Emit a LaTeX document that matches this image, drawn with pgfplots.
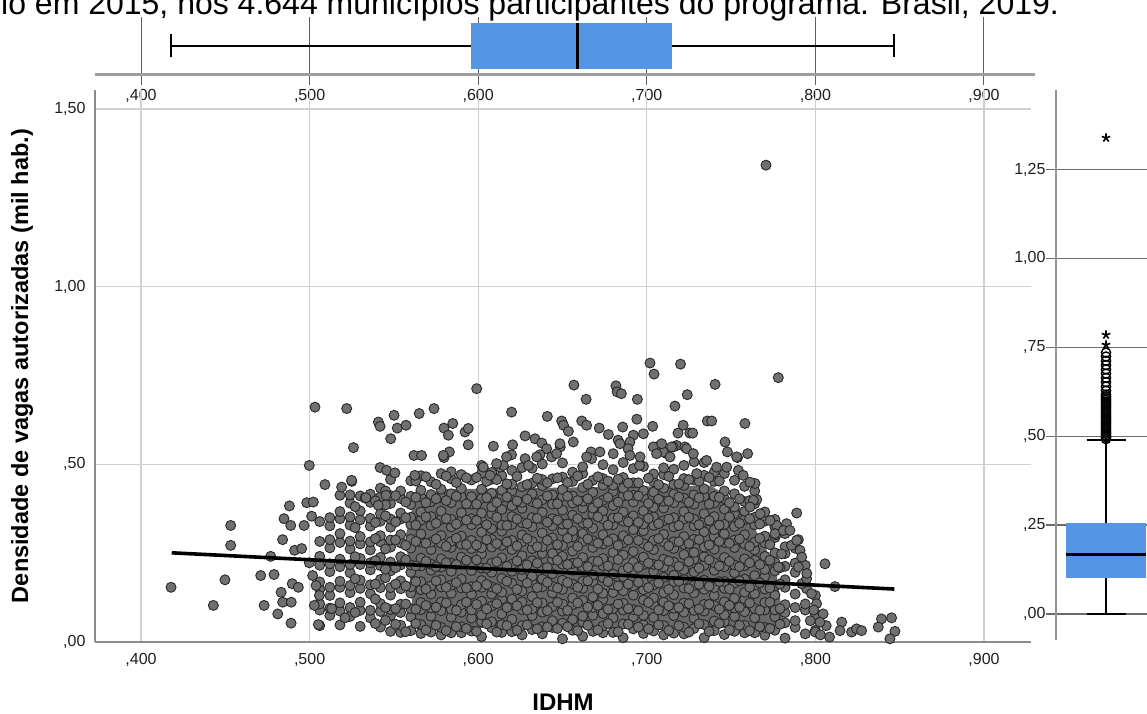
\documentclass[border=0pt]{standalone}
\usepackage{fontspec}
\setmainfont{Liberation Sans}
\usepackage{pgfplots}
\pgfplotsset{compat=1.18}
\usepackage{pgfplotstable}
\definecolor{boxblue}{RGB}{85,150,228}
\definecolor{ptfill}{RGB}{112,112,112}
\definecolor{ptedge}{RGB}{40,40,40}
\definecolor{corefill}{RGB}{104,104,104}
\definecolor{gridlight}{RGB}{208,208,208}
\definecolor{axisgray}{RGB}{140,140,140}
\definecolor{darkgrid}{RGB}{95,95,95}
\definecolor{ticktext}{RGB}{30,30,30}
\pgfplotsset{pt/.style={only marks, mark=*, mark size=5pt, mark options={fill=ptfill, draw=ptedge, line width=0.9pt}}}

\pgfplotstableread{
x c0 c1 c2 c3 c4 c5 c6 c7 c8 c9 c10 c11 c12 c13 c14 c15
0.506 nan 0.046 0.090 0.107 0.148 0.169 0.216 0.241 0.283 nan 0.339 nan nan nan nan nan
0.512 nan 0.075 0.095 0.131 0.154 0.198 0.220 0.265 0.288 0.327 0.350 nan nan nan nan nan
0.518 nan 0.048 0.087 0.110 0.154 0.171 0.212 0.233 0.280 0.305 0.347 0.367 nan nan nan nan
0.524 nan 0.072 0.097 0.139 0.159 0.195 0.218 0.262 0.284 0.329 0.352 0.391 0.414 nan nan nan
0.530 nan 0.044 0.089 0.112 0.151 0.174 0.218 0.235 0.276 0.297 0.344 0.369 0.411 nan nan nan
0.536 nan 0.068 0.089 0.136 0.161 0.203 0.223 0.259 0.282 0.326 0.348 0.393 0.416 nan nan nan
0.542 nan 0.042 0.086 0.108 0.153 0.176 0.215 0.238 0.282 0.299 0.340 0.361 0.408 0.433 nan nan
0.548 0.030 0.074 0.091 0.132 0.153 0.200 0.225 0.267 0.287 0.323 0.346 0.390 0.412 0.457 nan nan
0.554 0.027 0.047 0.083 0.106 0.150 0.172 0.217 0.240 0.279 0.302 0.346 0.363 0.404 0.425 nan nan
0.560 0.032 0.071 0.094 0.138 0.155 0.196 0.217 0.264 0.289 0.331 0.351 0.387 0.410 0.454 nan nan
0.566 0.024 0.049 0.091 0.111 0.147 0.170 0.214 0.236 0.281 0.304 0.343 0.366 0.410 0.427 0.468 nan
0.572 0.028 0.073 0.096 0.135 0.158 0.202 0.219 0.260 0.281 0.328 0.353 0.395 0.415 0.451 nan nan
0.578 0.020 0.041 0.088 0.113 0.155 0.175 0.211 0.234 0.278 0.300 0.345 0.368 0.407 0.430 0.474 nan
0.584 0.026 0.070 0.092 0.137 0.160 0.199 0.222 0.266 0.283 0.324 0.345 0.392 0.417 0.459 0.479 nan
0.590 0.026 0.043 0.084 0.105 0.152 0.177 0.219 0.239 0.275 0.298 0.342 0.364 0.409 0.432 0.471 nan
0.596 0.031 0.067 0.090 0.134 0.156 0.201 0.224 0.263 0.286 0.330 0.347 0.388 0.409 0.456 nan nan
0.602 0.015 0.057 0.076 0.115 0.154 0.173 0.208 0.248 0.265 0.309 0.343 0.363 0.404 0.430 0.475 0.497
0.608 0.040 0.057 0.101 0.135 0.155 0.196 0.222 0.267 0.289 0.319 0.361 0.380 0.419 0.458 0.477 nan
0.614 0.027 0.049 0.079 0.121 0.140 0.179 0.218 0.237 0.272 0.312 0.329 0.373 0.407 0.427 0.468 nan
0.620 0.029 0.064 0.104 0.121 0.165 0.199 0.219 0.260 0.286 0.331 0.353 0.383 0.425 0.444 0.483 nan
0.626 0.020 0.046 0.091 0.113 0.143 0.185 0.204 0.243 0.282 0.301 0.336 0.376 0.393 0.437 nan 0.491
0.632 0.035 0.074 0.093 0.128 0.168 0.185 0.229 0.263 0.283 0.324 0.350 0.395 0.417 0.447 0.489 nan
0.638 0.023 0.043 0.084 0.110 0.155 0.177 0.207 0.249 0.268 0.307 0.346 0.365 0.400 0.440 0.457 0.501
0.644 0.041 0.060 0.099 0.138 0.157 0.192 0.232 0.249 0.293 0.327 0.347 0.388 0.414 0.459 nan nan
0.650 0.009 0.053 0.087 0.107 0.148 0.174 0.219 0.241 0.271 0.313 0.332 0.371 0.410 0.429 0.464 0.504
0.656 0.033 0.063 0.105 0.124 0.163 0.202 0.221 0.256 0.296 0.313 0.357 0.391 0.411 0.452 0.478 nan
0.662 0.016 0.056 0.073 0.117 0.151 0.171 0.212 0.238 0.283 0.305 0.335 0.377 0.396 0.435 0.474 0.493
0.668 0.030 0.075 0.097 0.127 0.169 0.188 0.227 0.266 0.285 0.320 0.360 0.377 0.421 0.455 nan nan
0.674 0.026 0.045 0.080 0.120 0.137 0.181 0.215 0.235 0.276 0.302 0.347 0.369 0.399 0.441 0.460 0.499
0.680 0.027 0.068 0.094 0.139 0.161 0.191 0.233 0.252 0.291 0.330 0.349 0.384 0.424 0.441 0.485 nan
0.686 0.012 0.051 0.090 0.109 0.144 0.184 0.201 0.245 0.279 0.299 0.340 0.366 0.411 0.433 0.463 0.505
0.692 0.037 0.071 0.091 0.132 0.158 0.203 0.225 0.255 0.297 0.316 0.355 0.394 0.413 0.448 0.488 nan
0.698 0.024 0.048 0.075 0.118 0.147 0.169 0.218 0.239 0.277 0.313 0.332 0.369 0.407 0.426 nan 0.494
0.704 0.031 0.069 0.105 0.124 0.161 0.199 0.218 0.260 0.286 0.328 0.352 0.379 0.422 0.451 0.473 nan
0.710 0.020 0.046 0.088 0.112 0.139 0.182 0.211 0.233 0.282 0.303 0.341 0.377 0.396 0.433 0.471 0.490
0.716 0.025 0.074 0.095 0.133 0.169 0.188 0.225 0.263 0.282 0.324 0.350 0.392 0.416 0.443 0.486 nan
0.722 0.023 0.042 0.084 0.110 0.152 0.176 0.203 0.246 0.275 0.297 0.346 0.367 0.405 0.441 0.460 0.497
0.728 0.038 0.067 0.089 0.138 0.159 0.197 0.233 0.252 0.289 0.327 0.346 0.388 0.414 0.456 nan 0.507
0.734 0.012 0.049 0.087 0.106 0.148 0.174 0.216 0.240 0.267 0.310 0.339 0.361 0.410 0.431 0.469 0.505
0.740 0.032 0.059 0.102 0.131 0.153 0.202 0.223 0.261 0.297 0.316 0.353 0.391 0.410 0.452 0.478 nan
0.746 0.021 0.057 0.076 0.113 0.151 0.170 0.212 0.238 0.280 0.304 0.331 0.374 0.403 0.425 0.474 nan
0.752 0.030 0.072 0.096 0.123 0.166 0.195 0.217 0.266 0.287 0.325 0.361 0.380 0.417 0.455 nan nan
0.758 0.026 0.047 0.085 0.121 0.140 0.177 0.215 0.234 0.276 0.302 0.344 0.368 0.395 0.438 nan nan
0.764 0.026 0.068 0.094 0.136 0.160 0.187 0.230 0.259 0.281 0.330 0.351 0.389 0.425 nan nan nan
0.770 0.019 0.041 0.090 0.111 0.149 0.185 0.204 0.241 0.279 0.298 0.340 0.366 nan nan nan nan
0.776 0.033 0.071 0.090 0.132 0.158 0.200 0.224 0.251 0.294 0.323 0.345 nan nan nan nan nan
0.782 0.011 0.054 0.083 0.105 0.154 0.175 0.213 0.249 0.268 0.305 nan nan nan nan nan nan
0.788 0.041 0.060 0.097 0.135 nan 0.196 0.222 0.264 nan nan nan nan nan nan nan nan
0.794 0.023 nan 0.090 0.107 nan 0.169 0.216 nan nan nan nan nan nan nan nan nan
0.800 0.033 0.075 nan 0.131 nan nan nan nan nan nan nan nan nan nan nan nan
}\core

\pgfplotstableread{
x d0 d1 d2 d3 d4 d5 d6 d7
0.527 0.083 nan 0.178 0.240 nan 0.322 0.381 nan
0.539 0.052 0.121 0.163 0.229 0.291 0.336 0.397 nan
0.545 0.061 0.097 0.181 0.205 0.262 0.355 0.386 0.425
0.551 0.050 0.094 0.163 0.209 0.287 0.338 0.412 nan
0.557 0.029 0.107 0.158 0.232 0.272 0.350 0.394 nan
0.563 0.052 0.092 0.170 0.214 0.283 0.329 0.407 0.453
0.569 0.034 0.103 0.149 0.227 0.278 0.352 0.392 0.465
0.575 0.047 0.098 0.172 0.212 0.290 0.334 0.403 0.444
0.581 0.032 0.110 0.154 0.223 0.269 0.347 0.398 0.467
0.587 0.043 0.089 0.167 0.218 0.292 0.332 0.410 0.449
0.593 0.038 0.112 0.152 0.230 0.274 0.343 0.389 0.462
0.599 0.030 0.106 0.157 0.231 0.273 0.342 0.388 0.463
0.605 0.051 0.093 0.162 0.208 0.288 0.330 0.406 0.452
0.611 0.028 0.108 0.150 0.226 0.277 0.351 0.393 0.457
0.617 0.046 0.097 0.171 0.213 0.282 0.328 0.408 0.445
0.623 0.033 0.102 0.148 0.228 0.270 0.346 0.397 0.466
0.629 0.048 0.090 0.166 0.217 0.291 0.333 0.402 0.443
0.635 0.037 0.111 0.153 0.222 0.268 0.348 0.390 0.461
0.641 0.042 0.088 0.168 0.210 0.286 0.337 0.411 0.448
0.647 0.038 0.112 0.152 0.230 0.274 0.343 0.389 0.462
0.653 0.043 0.089 0.167 0.218 0.292 0.332 0.410 0.449
0.659 0.032 0.110 0.154 0.223 0.269 0.347 0.398 0.467
0.665 0.047 0.098 0.172 0.212 0.290 0.334 0.403 0.444
0.671 0.034 0.103 0.149 0.227 0.278 0.352 0.392 0.465
0.677 0.052 0.092 0.170 0.214 0.283 0.329 0.407 0.453
0.683 0.029 0.107 0.158 0.232 0.272 0.350 0.394 0.458
0.689 0.050 0.094 0.163 0.209 0.287 0.338 0.412 0.447
0.695 0.042 0.088 0.168 0.210 0.286 0.337 0.411 0.448
0.701 0.037 0.111 0.153 0.222 0.268 0.348 0.390 0.461
0.707 0.048 0.090 0.166 0.217 0.291 0.333 0.402 0.443
0.713 0.033 0.102 0.148 0.228 0.270 0.346 0.397 0.466
0.719 0.046 0.097 0.171 0.213 0.282 0.328 0.408 0.445
0.725 0.028 0.108 0.150 0.226 0.277 0.351 0.393 0.457
0.731 0.051 0.093 0.162 0.208 0.288 0.330 0.406 0.452
0.737 0.030 0.106 0.157 0.231 0.273 0.342 0.388 0.463
0.743 0.052 0.092 0.170 0.214 0.283 0.329 0.407 0.453
0.749 0.034 0.103 0.149 0.227 0.278 0.352 0.392 nan
0.755 0.047 0.098 0.172 0.212 0.290 0.334 0.403 nan
0.761 0.032 0.110 0.154 0.223 0.269 0.347 0.398 nan
0.767 0.043 0.089 0.167 0.218 0.292 0.332 nan nan
0.773 0.038 0.112 0.152 0.230 0.274 nan nan nan
0.779 0.050 0.094 0.163 0.209 nan nan nan nan
}\coreb

\begin{document}
\begin{tikzpicture}
\path[use as bounding box] (0pt,0pt) rectangle (1147pt,713pt);
\clip (0pt,0pt) rectangle (1147pt,713pt);
\node[anchor=base west, font=\fontsize{32}{38}\selectfont, inner sep=0pt] at (1pt,698pt) {lo em 2015, nos 4.644 municípios participantes do programa. Brasil, 2019.};

% ---------- top boxplot ----------
\begin{axis}[at={(95pt,628pt)}, anchor=south west, scale only axis,
  width=936pt, height=68pt,
  xmin=0.3727, xmax=0.9279, ymin=0, ymax=68,
  axis line style={draw=none}, ytick=\empty,
  xtick={0.4,0.5,0.6,0.7,0.8,0.9},
  xticklabels={{,400},{,500},{,600},{,700},{,800},{,900}},
  major tick length=0pt, xmajorgrids,
  grid style={darkgrid, line width=1pt},
  tick label style={font=\fontsize{16}{19}\selectfont, text=ticktext},
  xticklabel style={yshift=-1pt},
  clip=false]
\draw[color=black!38, line width=3pt] (axis cs:0.3727,10) -- (axis cs:0.9303,10);
\addplot[fill=boxblue, draw=none] coordinates {(0.5955,15.7) (0.7149,15.7) (0.7149,62.3) (0.5955,62.3)} -- cycle;
\addplot[black, line width=2.2pt] coordinates {(0.418,39) (0.5955,39)};
\addplot[black, line width=2.2pt] coordinates {(0.7149,39) (0.8467,39)};
\addplot[black, line width=2.2pt] coordinates {(0.418,27.5) (0.418,50.5)};
\addplot[black, line width=2.2pt] coordinates {(0.8467,27.5) (0.8467,50.5)};
\addplot[black, line width=3pt] coordinates {(0.659,15.7) (0.659,62.3)};
\end{axis}

% ---------- main scatter ----------
\begin{axis}[at={(95pt,71pt)}, anchor=south west, scale only axis,
  width=936pt, height=552pt,
  xmin=0.3727, xmax=0.9279, ymin=0, ymax=1.5535,
  axis lines*=left, axis line style={-, draw=axisgray, line width=1.8pt},
  xtick={0.4,0.5,0.6,0.7,0.8,0.9},
  xticklabels={{,400},{,500},{,600},{,700},{,800},{,900}},
  ytick={0,0.5,1,1.5}, yticklabels={{,00},{,50},{1,00},{1,50}},
  major tick length=0pt, grid=major, grid style={gridlight, line width=1.3pt},
  tick label style={font=\fontsize{16}{19}\selectfont, text=ticktext},
  xticklabel style={yshift=-8pt}, yticklabel style={xshift=-6pt},
  xlabel={IDHM}, ylabel={Densidade de vagas autorizadas (mil hab.)},
  xlabel style={at={(axis description cs:0.5,-0.1087)}, anchor=center, font=\bfseries\fontsize{24}{28}\selectfont},
  ylabel style={at={(axis description cs:-0.078,0.5)}, anchor=center, font=\bfseries\fontsize{23.5}{28}\selectfont},
  clip=false]
\addplot[draw=none, fill=corefill] coordinates {(0.562,0.05) (0.557,0.30) (0.562,0.40) (0.578,0.43) (0.738,0.44) (0.748,0.41) (0.756,0.37) (0.764,0.32) (0.771,0.26) (0.777,0.19) (0.781,0.06) (0.772,0.04) (0.570,0.04)} -- cycle;
\pgfplotsinvokeforeach{0,...,15}{\addplot[pt] table[x=x,y=c#1]{\core};}
\pgfplotsinvokeforeach{0,...,7}{\addplot[pt] table[x=x,y=d#1]{\coreb};}
\addplot[pt] coordinates {
(0.4178,0.154)(0.4429,0.103)(0.4498,0.175)(0.4532,0.328)(0.4532,0.272)(0.4710,0.187)(0.4730,0.103)
(0.4769,0.241)(0.4789,0.190)(0.4811,0.079)(0.4840,0.288)(0.4848,0.347)(0.4831,0.140)(0.4840,0.112)
(0.4880,0.383)(0.4888,0.328)(0.4890,0.053)(0.4891,0.112)(0.4897,0.164)(0.4911,0.258)(0.4933,0.154)
(0.4953,0.263)(0.4967,0.328)(0.4983,0.392)(0.5022,0.394)(0.5012,0.354)(0.4998,0.497)(0.5052,0.049)
(0.5091,0.443)(0.5210,0.068)(0.5131,0.094)(0.5180,0.413)(0.5250,0.452)(0.5329,0.405)
(0.4998,0.223)(0.5018,0.187)(0.5038,0.159)(0.5058,0.131)(0.5028,0.103)
(0.5032,0.661)(0.5220,0.657)(0.5260,0.547)(0.5408,0.619)(0.5418,0.607)(0.5481,0.572)(0.5501,0.638)
(0.5520,0.602)(0.5572,0.610)(0.5650,0.643)(0.5738,0.657)(0.5797,0.602)(0.5849,0.615)(0.5823,0.582)
(0.5922,0.591)(0.5941,0.601)(0.5941,0.555)(0.5991,0.713)(0.6090,0.551)(0.6198,0.647)(0.6204,0.555)
(0.6278,0.580)(0.6337,0.572)(0.6377,0.560)(0.6410,0.635)(0.6495,0.622)(0.6506,0.610)(0.6535,0.593)
(0.6487,0.549)(0.6568,0.723)(0.6614,0.622)(0.6643,0.610)(0.6640,0.683)(0.6718,0.602)(0.6772,0.584)
(0.6817,0.721)(0.6824,0.704)(0.6849,0.699)(0.6857,0.605)(0.6944,0.683)(0.6941,0.627)(0.7019,0.785)
(0.7043,0.754)(0.7035,0.607)(0.6980,0.586)(0.6920,0.582)(0.6830,0.568)(0.6900,0.563)(0.6889,0.544)
(0.6900,0.525)(0.7200,0.782)(0.7240,0.696)(0.7167,0.664)(0.7216,0.610)(0.7185,0.588)(0.7255,0.588)
(0.7272,0.588)(0.7359,0.622)(0.7385,0.622)(0.7405,0.725)(0.7582,0.615)(0.7464,0.563)(0.7478,0.535)
(0.7058,0.549)(0.7118,0.530)(0.7177,0.553)(0.7226,0.549)(0.7538,0.519)(0.7598,0.530)(0.7780,0.744)
(0.7642,0.446)(0.7652,0.401)(0.7889,0.363)(0.7707,1.342)
(0.5418,0.491)(0.5457,0.483)(0.5506,0.476)(0.5619,0.525)(0.5664,0.525)(0.5829,0.535)(0.5797,0.519)
(0.6130,0.492)(0.6149,0.497)(0.6198,0.527)(0.6278,0.516)(0.6298,0.497)(0.5624,0.469)(0.5793,0.525)
(0.6957,0.497)(0.6406,0.544)(0.6435,0.521)(0.6366,0.527)(0.6485,0.558)(0.6564,0.563)(0.6669,0.535)
(0.6722,0.535)(0.6673,0.516)(0.6070,0.469)(0.5190,0.436)(0.5249,0.455)(0.5334,0.406)(0.5453,0.413)
(0.5407,0.385)(0.6030,0.492)(0.6109,0.502)(0.6168,0.521)(0.6347,0.521)(0.6465,0.530)(0.6643,0.521)
(0.6801,0.530)(0.6841,0.558)(0.6960,0.521)(0.7039,0.549)(0.7098,0.535)(0.7157,0.549)(0.7236,0.544)
(0.7276,0.530)(0.7088,0.558)(0.7147,0.549)(0.7058,0.530)(0.7138,0.521)(0.7296,0.474)(0.7355,0.511)
(0.7414,0.492)(0.7474,0.492)(0.7533,0.521)(0.7543,0.483)(0.7572,0.469)(0.7612,0.450)(0.7632,0.399)
(0.7672,0.361)(0.7612,0.380)
(0.7770,0.328)(0.7766,0.302)(0.7829,0.333)(0.7899,0.288)(0.7909,0.258)(0.7919,0.239)(0.8057,0.220)
(0.8116,0.156)(0.7948,0.150)(0.7977,0.136)(0.8392,0.065)(0.8452,0.068)(0.8472,0.030)(0.8442,0.009)
(0.8215,0.028)(0.8244,0.037)(0.8274,0.032)(0.8373,0.042)(0.8156,0.056)(0.8146,0.032)(0.8084,0.014)
(0.8064,0.046)(0.8007,0.108)(0.8046,0.079)(0.8027,0.056)(0.7919,0.164)(0.7948,0.178)(0.7899,0.211)
(0.7858,0.272)(0.7799,0.248)(0.7780,0.211)(0.7949,0.193)(0.7990,0.090)(0.7970,0.060)(0.8000,0.028)
(0.8030,0.020)(0.7731,0.342)(0.7760,0.305)(0.7810,0.314)(0.7849,0.314)(0.7889,0.286)
};
\end{axis}

% ---------- regression line (overlay on same axis frame) ----------
\begin{axis}[at={(95pt,71pt)}, anchor=south west, scale only axis,
  width=936pt, height=552pt,
  xmin=0.3727, xmax=0.9279, ymin=0, ymax=1.5535, hide axis]
\addplot[black, line width=3.6pt] coordinates {(0.4182,0.251) (0.8468,0.149)};
\end{axis}

% ---------- right boxplot ----------
\begin{axis}[at={(1046pt,73pt)}, anchor=south west, scale only axis,
  width=101pt, height=550pt,
  xmin=-10, xmax=91, ymin=-0.0731, ymax=1.4736,
  axis line style={draw=none}, xtick=\empty,
  ytick={0,0.25,0.5,0.75,1,1.25}, yticklabels={{,00},{,25},{,50},{,75},{1,00},{1,25}},
  ymajorgrids, grid style={black!58, line width=1.3pt},
  major tick length=0pt,
  yticklabel style={font=\fontsize{16}{19}\selectfont, text=ticktext, xshift=3pt},
  clip=false]
\draw[draw=black!42, line width=2pt] (axis cs:0,-0.0731) -- (axis cs:0,1.4736);
\addplot[fill=boxblue, draw=none] coordinates {(10,0.100) (90,0.100) (90,0.255) (10,0.255)} -- cycle;
\addplot[black, line width=2pt] coordinates {(50,0.255) (50,0.489)};
\addplot[black, line width=2pt] coordinates {(50,0.100) (50,0)};
\addplot[black, line width=2.2pt] coordinates {(30.5,0.489) (69.5,0.489)};
\addplot[black, line width=2.2pt] coordinates {(30.5,0) (69.5,0)};
\addplot[black, line width=3pt] coordinates {(10,0.168) (90,0.168)};
\addplot[only marks, mark=o, mark size=4.6pt, mark options={draw=black, line width=1.4pt}] coordinates {
(50,0.492)(50,0.497)(50,0.502)(50,0.507)(50,0.512)(50,0.517)(50,0.522)(50,0.527)(50,0.532)(50,0.537)
(50,0.542)(50,0.547)(50,0.552)(50,0.557)(50,0.562)(50,0.567)(50,0.572)(50,0.577)(50,0.582)(50,0.587)
(50,0.592)(50,0.597)(50,0.602)(50,0.607)(50,0.612)(50,0.617)(50,0.628)(50,0.640)(50,0.652)(50,0.664)
(50,0.676)(50,0.688)(50,0.700)(50,0.712)(50,0.724)(50,0.735)};
\addplot[only marks, mark=star, mark size=4.5pt, mark options={draw=black, line width=1.6pt}] coordinates {(50,0.757)(50,0.785)(50,1.339)};
\end{axis}
\end{tikzpicture}
\end{document}
